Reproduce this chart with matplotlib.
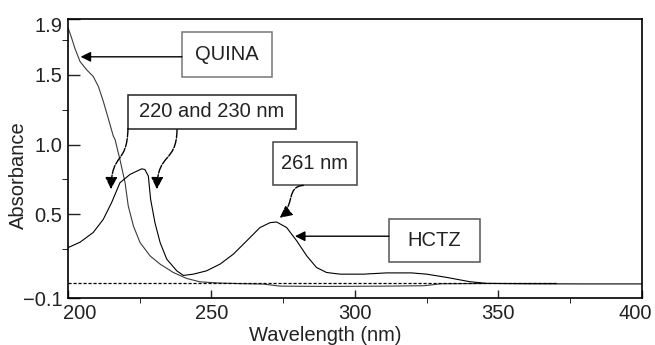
import numpy as np
import matplotlib.pyplot as plt
import matplotlib.transforms as mtrans
from matplotlib.patches import Rectangle, FancyArrowPatch
from matplotlib.path import Path

plt.rcParams['font.family'] = ['Liberation Sans', 'DejaVu Sans']

# spectra (wavelength nm, absorbance)
quina_wl = [200.1, 201.3, 202.4, 204.2, 206.5, 208.8, 210.6, 212.3, 214.0,
            215.8, 216.4, 218.1, 219.9, 221.0, 222.8, 225.1, 228.6, 232.1,
            236.7, 241.4, 246, 252, 260, 268, 274, 290, 310, 324, 330, 345,
            370]
quina_abs = [1.833, 1.762, 1.69, 1.595, 1.536, 1.488, 1.416, 1.31, 1.19,
             1.06, 1.036, 0.893, 0.726, 0.56, 0.416, 0.298, 0.202, 0.143,
             0.083, 0.04, 0.016, 0.008, 0.003, 0.0, -0.015, -0.017, -0.015,
             -0.012, 0.002, 0.004, 0.004]

hctz_wl = [200.1, 204.2, 208.8, 212.3, 215.2, 218.1, 221.6, 225.7, 226.8,
           228.0, 228.8, 230.3, 232.1, 234.4, 237.9, 240.2, 243.7, 248.3,
           253.0, 257.6, 262.3, 266.9, 270.4, 272.7, 276.2, 279.7, 283.2,
           286.6, 290.1, 294.8, 302.9, 311.0, 319.7, 325.0, 331.9, 340.0,
           345.8, 360, 380, 400]
hctz_abs = [0.262, 0.30, 0.37, 0.464, 0.584, 0.726, 0.786, 0.826, 0.821,
            0.774, 0.607, 0.44, 0.298, 0.179, 0.095, 0.062, 0.071, 0.095,
            0.143, 0.214, 0.31, 0.405, 0.44, 0.445, 0.405, 0.31, 0.202,
            0.119, 0.083, 0.071, 0.071, 0.08, 0.08, 0.071, 0.048, 0.017,
            0.005, 0.002, 0.001, 0.001]

blank_wl = [200, 370]
blank_abs = [0.009, 0.009]

y_ticks = [-0.1, 0.5, 1.0, 1.5, 1.9]
y_minor = [0.25, 0.75, 1.25, 1.75]
x_ticks = [200, 250, 300, 350, 400]
x_minor = [225, 275, 325, 375]

fs = 14.5

fig = plt.figure(figsize=(6.55, 3.45), dpi=100)
ax = fig.add_axes([0.1038, 0.1362, 0.8762, 0.8087])

ax.plot(quina_wl, quina_abs, color='#3a3a3a', lw=0.8)
ax.plot(hctz_wl, hctz_abs, color='black', lw=0.8)
ax.plot(blank_wl, blank_abs, color='black', lw=0.9, ls=(0, (2.5, 1.5)))

ax.set_xlim(200, 400)
ax.set_ylim(-0.1, 1.9)
ax.set_xticks(x_ticks)
ax.set_xticks(x_minor, minor=True)
ax.set_yticks(y_ticks)
ax.set_yticklabels(['\u22120.1', '0.5', '1.0', '1.5', '1.9'])
ax.set_yticks(y_minor, minor=True)
ax.tick_params(direction='in', labelsize=fs, pad=4, width=1, colors='#222222')
ax.tick_params(axis='y', which='major', length=8.5)
ax.tick_params(axis='y', which='minor', length=4.5)
ax.tick_params(axis='x', which='major', length=6)
ax.tick_params(axis='x', which='minor', length=3.5)
for s in ax.spines.values():
    s.set_linewidth(1.2)

# nudge end labels like the original (200 right, 400 left, 1.9 down)
xl = ax.get_xticklabels()
xl[0].set_transform(xl[0].get_transform()
                    + mtrans.ScaledTranslation(0.12, 0, fig.dpi_scale_trans))
xl[-1].set_transform(xl[-1].get_transform()
                     + mtrans.ScaledTranslation(-0.07, 0, fig.dpi_scale_trans))
yl = ax.get_yticklabels()
yl[-1].set_transform(yl[-1].get_transform()
                     + mtrans.ScaledTranslation(0, -0.05, fig.dpi_scale_trans))

ax.set_xlabel('Wavelength (nm)', fontsize=fs, color='#222222')
ax.xaxis.set_label_coords(0.448, -0.10)
ax.set_ylabel('Absorbance', fontsize=fs, color='#222222')
ax.yaxis.set_label_coords(-0.0696, 0.44)

# label boxes: (x0, y0, x1, y1), text, edge colour
boxes = [
    ((239.7, 1.486, 271.1, 1.807), 'QUINA', '#777777'),
    ((220.9, 1.114, 279.4, 1.357), '220 and 230 nm', '#222222'),
    ((271.4, 0.707, 300.7, 1.021), '261 nm', '#444444'),
    ((311.8, 0.157, 343.6, 0.464), 'HCTZ', '#555555'),
]
for (x0, y0, x1, y1), txt, ec in boxes:
    ax.add_patch(Rectangle((x0, y0), x1 - x0, y1 - y0, fill=False,
                           ec=ec, lw=1.1, zorder=3))
    ax.text((x0 + x1) / 2, (y0 + y1) / 2, txt, fontsize=fs,
            ha='center', va='center', color='#222222', zorder=4)

# straight arrows
arrow_kw = dict(arrowstyle='-|>,head_length=0.6,head_width=0.3',
                color='black', lw=1.0, shrinkA=0, shrinkB=0)
ax.annotate('', xy=(204.4, 1.629), xytext=(239.7, 1.629), arrowprops=arrow_kw)
ax.annotate('', xy=(279.1, 0.343), xytext=(311.8, 0.343), arrowprops=arrow_kw)

# curly arrows
curls = [
    [(220.9, 1.114), (220.6, 0.85), (215.2, 0.95), (215.0, 0.68)],
    [(238.0, 1.107), (237.8, 0.86), (231.2, 0.95), (231.0, 0.68)],
    [(282.0, 0.707), (276.0, 0.70), (279.0, 0.56), (273.8, 0.475)],
]
for pts in curls:
    path = Path(pts, [Path.MOVETO, Path.CURVE4, Path.CURVE4, Path.CURVE4])
    arr = FancyArrowPatch(path=path,
                          arrowstyle='-|>,head_length=0.6,head_width=0.3',
                          mutation_scale=12, color='black', lw=1.0,
                          ls=(0, (6, 1.2)), zorder=3)
    ax.add_patch(arr)

fig.savefig('out.png', dpi=100)
